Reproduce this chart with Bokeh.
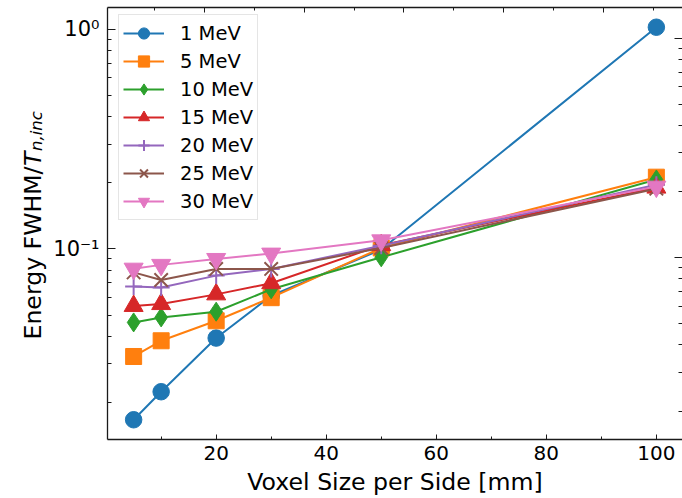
import numpy as np
from bokeh.plotting import figure
from bokeh.layouts import row
from bokeh.models import (Range1d, LogScale, LinearAxis, LogAxis, FixedTicker,
                          CustomJSTickFormatter, Legend, LegendItem, Label)
from bokeh.embed import file_html
from bokeh.resources import INLINE

# ---------------- data ----------------
voxel_mm = [5, 10, 20, 30, 50, 100]
series_labels = ["1 MeV", "5 MeV", "10 MeV", "15 MeV", "20 MeV", "25 MeV", "30 MeV"]
fwhm_1 = [0.0167, 0.0224, 0.0393, 0.0612, 0.0993, 1.02]
fwhm_5 = [0.0324, 0.0382, 0.0471, 0.0600, 0.101, 0.212]
fwhm_10 = [0.0463, 0.0488, 0.0518, 0.0655, 0.0916, 0.207]
fwhm_15 = [0.0550, 0.0561, 0.0621, 0.0698, 0.104, 0.190]
fwhm_20 = [0.0675, 0.0668, 0.0756, 0.0811, 0.1034, 0.196]
fwhm_25 = [0.0782, 0.0722, 0.0811, 0.0811, 0.101, 0.188]
fwhm_30 = [0.0813, 0.0846, 0.0900, 0.0952, 0.1094, 0.192]

x_major = [20, 40, 60, 80, 100]
x_minor = [10, 30, 50, 70, 90]
y_major = [0.1, 1.0]
y_minor = [0.02, 0.03, 0.04, 0.05, 0.06, 0.07, 0.08, 0.09,
           0.2, 0.3, 0.4, 0.5, 0.6, 0.7, 0.8, 0.9]
top_major = [2, 4, 6, 8, 10]
top_minor = [1, 3, 5, 7, 9, 11]

all_series = [fwhm_1, fwhm_5, fwhm_10, fwhm_15, fwhm_20, fwhm_25, fwhm_30]
colors = ["#1f77b4", "#ff7f0e", "#2ca02c", "#d62728", "#9467bd", "#8c564b", "#e377c2"]
markers = ["circle", "square", "diamond", "triangle", "cross", "x", "inverted_triangle"]
msizes = [16.5, 16, 19, 19, 17, 19, 19]

FONT = "DejaVu Sans"
LABEL_W = 50

# ---------------- narrow strip holding the y-axis title ----------------
# (its frame is aligned with the main plot's frame: bottom at canvas y=440)
lab = figure(width=LABEL_W, height=498, x_range=Range1d(0, 1), y_range=Range1d(0, 1),
             x_axis_type=None, y_axis_type=None, output_backend="svg",
             toolbar_location=None, min_border=0)
lab.outline_line_color = None
lab.background_fill_color = "white"
lab.border_fill_color = "white"
lab.add_layout(Label(x=32, y=100, x_units="screen", y_units="screen",
                     text="Energy FWHM/", angle=np.pi / 2, text_align="left",
                     text_baseline="alphabetic", text_font=FONT,
                     text_font_size="23.6px", text_color="black"))
lab.add_layout(Label(x=32, y=273.5, x_units="screen", y_units="screen",
                     text="T", angle=np.pi / 2, text_align="left",
                     text_baseline="alphabetic", text_font=FONT, text_font_style="italic",
                     text_font_size="23.6px", text_color="black"))
lab.add_layout(Label(x=36, y=288.5, x_units="screen", y_units="screen",
                     text="n,inc", angle=np.pi / 2, text_align="left",
                     text_baseline="alphabetic", text_font=FONT, text_font_style="italic",
                     text_font_size="16.5px", text_color="black"))

# ---------------- main plot ----------------
p = figure(width=682 - LABEL_W, height=498, x_range=Range1d(0.25, 104.75),
           y_range=Range1d(0.01358, 1.254), y_axis_type="log",
           output_backend="svg", toolbar_location=None,
           min_border_left=106 - LABEL_W, min_border_right=0, min_border_top=7,
           min_border_bottom=58)
p.outline_line_color = None
p.xgrid.visible = False
p.ygrid.visible = False
p.background_fill_color = "white"
p.border_fill_color = "white"

AX_COL = "#1a1a1a"

# bottom axis
xa = p.xaxis[0]
xa.ticker = FixedTicker(ticks=x_major, minor_ticks=x_minor)
xa.major_tick_in = 5
xa.major_tick_out = 0
xa.minor_tick_in = 3
xa.minor_tick_out = 0
xa.major_label_standoff = 6
xa.major_label_text_font = FONT
xa.major_label_text_font_size = "20px"
xa.major_label_text_color = "black"
xa.axis_label = "Voxel Size per Side [mm]"
xa.axis_label_text_font = FONT
xa.axis_label_text_font_size = "23.6px"
xa.axis_label_text_font_style = "normal"
xa.axis_label_text_color = "black"
xa.axis_label_standoff = 5
xa.axis_line_width = 1.3
xa.axis_line_color = AX_COL
xa.major_tick_line_color = AX_COL
xa.minor_tick_line_color = AX_COL

# left axis
ya = p.yaxis[0]
ya.ticker = FixedTicker(ticks=y_major, minor_ticks=y_minor)
ya.formatter = CustomJSTickFormatter(code="""
const e = Math.round(Math.log10(tick));
const sup = {'-':'\u207b','0':'\u2070','1':'\u00b9','2':'\u00b2','3':'\u00b3',
             '4':'\u2074','5':'\u2075','6':'\u2076','7':'\u2077','8':'\u2078','9':'\u2079'};
return '10' + String(e).split('').map(c => sup[c]).join('');
""")
ya.major_tick_in = 8
ya.major_tick_out = 0
ya.minor_tick_in = 4
ya.minor_tick_out = 0
ya.major_label_standoff = 8
ya.major_label_text_font = FONT
ya.major_label_text_font_size = "21px"
ya.major_label_text_color = "black"
ya.axis_line_width = 1.3
ya.axis_line_color = AX_COL
ya.major_tick_line_color = AX_COL
ya.minor_tick_line_color = AX_COL

blank = CustomJSTickFormatter(code="return '';")

# top axis (twin, unlabeled)
p.extra_x_ranges = {"top": Range1d(0.06, 11.58)}
ta = LinearAxis(x_range_name="top", ticker=FixedTicker(ticks=top_major, minor_ticks=top_minor),
                formatter=blank, major_tick_in=5, major_tick_out=0, minor_tick_in=3,
                minor_tick_out=0, major_label_standoff=0, axis_line_width=1.3,
                axis_line_color=AX_COL, major_tick_line_color=AX_COL,
                minor_tick_line_color=AX_COL)
p.add_layout(ta, "above")

# right axis (twin, unlabeled, spine outside the window)
p.extra_y_ranges = {"right": Range1d(0.01484, 1.378)}
p.extra_y_scales = {"right": LogScale()}
ra = LogAxis(y_range_name="right", ticker=FixedTicker(ticks=y_major, minor_ticks=y_minor),
             formatter=blank, major_tick_in=8, major_tick_out=0, minor_tick_in=4,
             minor_tick_out=0, major_label_standoff=0, axis_line_color=None,
             major_tick_line_color=AX_COL, minor_tick_line_color=AX_COL)
p.add_layout(ra, "right")

# series
items = []
for lab_txt, ys, col, mk, ms in zip(series_labels, all_series, colors, markers, msizes):
    lr = p.line(voxel_mm, ys, line_color=col, line_width=2)
    if mk in ("cross", "x"):
        sr = p.scatter(voxel_mm, ys, marker=mk, size=ms, line_color=col, line_width=2)
    else:
        sr = p.scatter(voxel_mm, ys, marker=mk, size=ms, fill_color=col, line_color=col,
                       line_width=1)
    items.append(LegendItem(label=lab_txt, renderers=[lr, sr]))

legend = Legend(items=items, location=(11, 219), padding=4, spacing=0,
                glyph_width=41, glyph_height=28, label_height=28, label_standoff=16,
                label_text_font=FONT, label_text_font_size="19.5px",
                label_text_color="black",
                border_line_color="#cccccc", border_line_width=1,
                background_fill_color="white", background_fill_alpha=0.85)
p.add_layout(legend)

layout = row(lab, p, spacing=0)
open("out.html", "w").write(file_html(layout, INLINE))
